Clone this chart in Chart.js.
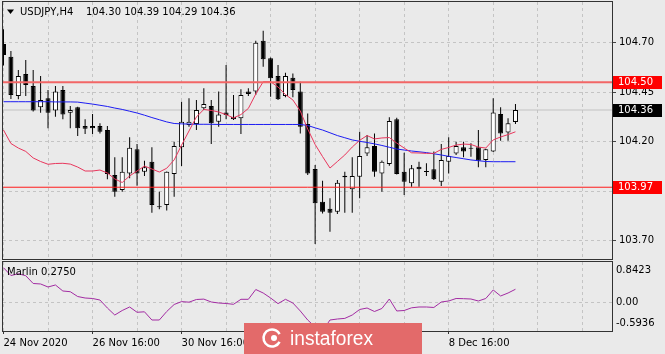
<!DOCTYPE html>
<html>
<head>
<meta charset="utf-8">
<script src="https://cdn.jsdelivr.net/npm/chart.js@4/dist/chart.umd.min.js"></script>
<style>
  html, body { margin: 0; padding: 0; background: #eaeaea; }
  body { width: 665px; height: 354px; position: relative; overflow: hidden; }
  canvas { position: absolute; left: 0; }
  #main { top: 0; }
  #sub { top: 260px; }
</style>
</head>
<body>
<canvas id="main" width="665" height="260"></canvas>
<canvas id="sub" width="665" height="94"></canvas>
<script>
// USDJPY H4, 70 bars
const symbol = 'USDJPY,H4';
const lastBar = ['104.30', '104.39', '104.29', '104.36'];

const opens = [104.693,104.629,104.431,104.542,104.481,104.374,104.419,104.357,104.461,104.346,
  104.374,104.279,104.279,104.279,104.259,104.032,103.956,104.040,104.162,104.048,
  104.099,103.873,103.880,104.037,104.172,104.284,104.289,104.369,104.380,104.301,
  104.348,104.326,104.318,104.453,104.453,104.710,104.621,104.532,104.431,104.523,
  104.453,104.289,104.062,103.897,103.862,103.846,104.028,103.960,104.023,104.141,
  104.178,104.040,104.087,104.313,104.048,103.990,104.074,104.049,104.061,103.998,
  104.099,104.141,104.172,104.167,104.172,104.108,104.150,104.340,104.247,104.300];
const highs = [104.768,104.658,104.562,104.613,104.562,104.532,104.461,104.481,104.481,104.380,
  104.376,104.313,104.340,104.293,104.279,104.121,104.121,104.222,104.188,104.104,
  104.172,103.947,104.050,104.200,104.402,104.419,104.411,104.470,104.411,104.453,
  104.587,104.436,104.465,104.470,104.710,104.761,104.625,104.587,104.548,104.545,
  104.503,104.343,104.082,104.003,103.914,104.007,104.048,104.121,104.250,104.234,
  104.242,104.105,104.323,104.321,104.144,104.082,104.099,104.091,104.150,104.188,
  104.222,104.200,104.200,104.192,104.259,104.165,104.419,104.374,104.318,104.390];
const lows = [104.585,104.416,104.414,104.431,104.352,104.346,104.268,104.326,104.313,104.268,
  104.229,104.239,104.239,104.242,104.010,103.922,103.947,104.015,103.978,104.027,
  103.841,103.859,103.852,103.922,104.077,104.276,104.259,104.360,104.188,104.276,
  104.313,104.310,104.239,104.431,104.436,104.579,104.427,104.411,104.424,104.424,
  104.242,104.032,103.683,103.838,103.745,103.835,103.841,103.841,103.914,104.128,
  104.023,103.947,104.079,104.035,103.931,103.973,103.973,104.027,104.007,103.976,
  104.040,104.133,104.121,104.124,104.071,104.071,104.148,104.205,104.205,104.290];
const closes = [104.638,104.436,104.532,104.486,104.357,104.411,104.346,104.453,104.338,104.360,
  104.268,104.266,104.268,104.250,104.037,103.947,104.048,104.170,104.040,104.071,
  103.880,103.869,104.048,104.178,104.301,104.301,104.360,104.390,104.293,104.338,
  104.335,104.313,104.436,104.441,104.700,104.616,104.520,104.414,104.532,104.461,
  104.276,104.040,103.889,103.846,103.841,103.993,104.020,104.027,104.128,104.172,
  104.048,104.099,104.305,104.037,103.998,104.066,104.061,104.047,104.010,104.108,
  104.128,104.178,104.150,104.165,104.104,104.162,104.348,104.242,104.293,104.360];

// moving averages (fast red, slow blue)
const maFast = [104.259,104.191,104.168,104.151,104.118,104.100,104.086,104.090,104.091,104.087,
  104.072,104.052,104.052,104.057,104.042,104.012,103.994,104.027,104.052,104.077,
  104.062,104.047,104.066,104.108,104.183,104.254,104.325,104.363,104.358,104.350,
  104.337,104.320,104.337,104.368,104.441,104.503,104.503,104.476,104.438,104.411,
  104.355,104.264,104.186,104.125,104.067,104.100,104.133,104.173,104.207,104.231,
  104.214,104.219,104.221,104.193,104.168,104.144,104.143,104.141,104.141,104.161,
  104.171,104.183,104.188,104.186,104.173,104.168,104.209,104.224,104.236,104.250];
const maSlow = [104.402,104.402,104.402,104.402,104.402,104.402,104.402,104.401,104.401,104.401,
  104.400,104.395,104.390,104.384,104.378,104.370,104.363,104.354,104.345,104.334,
  104.322,104.311,104.300,104.292,104.290,104.289,104.288,104.288,104.288,104.287,
  104.287,104.287,104.287,104.287,104.287,104.287,104.287,104.287,104.287,104.287,
  104.287,104.282,104.270,104.259,104.245,104.231,104.220,104.209,104.202,104.196,
  104.189,104.181,104.172,104.163,104.158,104.153,104.149,104.145,104.139,104.133,
  104.126,104.120,104.114,104.108,104.104,104.100,104.099,104.099,104.099,104.099];

// Marlin oscillator
const marlin = [0.724,0.561,0.597,0.557,0.395,0.385,0.322,0.364,0.239,0.224,
  0.124,0.093,0.083,0.051,-0.115,-0.261,-0.167,-0.094,-0.204,-0.194,
  -0.365,-0.365,-0.188,-0.042,0.018,0.006,0.062,0.070,0.010,-0.011,
  -0.021,-0.038,0.066,0.066,0.270,0.197,0.093,-0.024,0.066,-0.011,
  -0.177,-0.365,-0.510,-0.5936,-0.365,-0.344,-0.331,-0.261,-0.146,-0.115,
  -0.188,-0.125,0.072,-0.177,-0.167,-0.111,-0.094,-0.094,-0.104,0.010,
  0.031,0.083,0.079,0.072,0.031,0.083,0.260,0.135,0.197,0.275];
const marlinValue = '0.2750';

const priceTicks = [104.70, 104.45, 104.20, 103.95, 103.70];
const levels = [104.50, 103.97];
const bid = 104.36;
const marlinTicks = [0.8423, 0, -0.5936];
const marlinLabels = ['0.8423', '0.00', '-0.5936'];
const gridBars = [0, 6, 12, 18, 24, 30, 36, 42, 48, 54, 60, 66, 72, 78];
const timeBars = [0, 12, 24, 36, 48, 60];
const timeLabels = ['24 Nov 2020', '26 Nov 16:00', '30 Nov 16:00', '2 Dec 16:00', '4 Dec 16:00', '8 Dec 16:00'];

const xMin = -0.067, xMax = 82.01;
const font = { family: 'DejaVu Sans', size: 10 };
const gridColor = '#c4c4c4';

const wicks = opens.map((o, i) => ({ x: i, y: [lows[i], highs[i]] }));
const bodies = opens.map((o, i) => ({ x: i, y: [o, closes[i]] }));
const bodyColors = opens.map((o, i) => closes[i] >= o ? '#ffffff' : '#000000');
const hline = v => [{ x: xMin, y: v }, { x: xMax, y: v }];

const mainDecor = {
  id: 'mainDecor',
  afterDraw(chart) {
    const { ctx, chartArea: a, scales: { y } } = chart;
    ctx.save();
    ctx.strokeStyle = '#333';
    ctx.lineWidth = 1;
    ctx.strokeRect(a.left - 0.5, a.top - 0.5, a.right - a.left + 1, a.bottom - a.top + 1);

    ctx.fillStyle = '#000';
    ctx.beginPath();
    ctx.moveTo(7, 9.5); ctx.lineTo(14, 9.5); ctx.lineTo(10.5, 14);
    ctx.closePath(); ctx.fill();
    ctx.font = '10px "DejaVu Sans"';
    ctx.textBaseline = 'middle';
    ctx.fillText(symbol, 20, 12);
    ctx.fillText(lastBar.join(' '), 86, 12);

    const tag = (v, bg) => {
      const py = Math.round(y.getPixelForValue(v));
      ctx.fillStyle = bg;
      ctx.fillRect(a.right + 1, py - 6, 49, 13);
      ctx.fillStyle = '#fff';
      ctx.fillText(v.toFixed(2), a.right + 6, py + 0.5);
    };
    levels.forEach(v => tag(v, '#ff0000'));
    tag(bid, '#000');
    ctx.restore();
  }
};

const subDecor = {
  id: 'subDecor',
  afterDraw(chart) {
    const { ctx, chartArea: a, scales: { y } } = chart;
    ctx.save();
    ctx.strokeStyle = '#333';
    ctx.lineWidth = 1;
    ctx.strokeRect(a.left - 0.5, a.top - 0.5, a.right - a.left + 1, a.bottom - a.top + 1);

    ctx.font = '10px "DejaVu Sans"';
    ctx.fillStyle = '#000';
    ctx.textBaseline = 'middle';
    ctx.fillText('Marlin ' + marlinValue, 7, 12);
    marlinTicks.forEach((v, k) => {
      const py = Math.min(Math.max(y.getPixelForValue(v), a.top + 8.5), a.bottom - 7.5);
      ctx.fillText(marlinLabels[k], a.right + 4, py);
    });

    // watermark
    ctx.fillStyle = '#e36a6a';
    ctx.fillRect(244, 63, 178, 31);
    ctx.strokeStyle = '#fff';
    ctx.fillStyle = '#fff';
    ctx.lineWidth = 2.5;
    ctx.beginPath();
    ctx.arc(272, 78, 8.5, Math.PI * 0.15, Math.PI * 1.85);
    ctx.stroke();
    ctx.beginPath();
    ctx.arc(274, 78, 3, 0, Math.PI * 2);
    ctx.fill();
    ctx.font = '20px "Liberation Sans"';
    ctx.textBaseline = 'alphabetic';
    ctx.fillText('instaforex', 290, 85, 83);
    ctx.restore();
  }
};

const noPad = s => { s.paddingTop = 0; s.paddingBottom = 0; s.paddingLeft = 0; s.paddingRight = 0; };

new Chart(document.getElementById('main'), {
  type: 'bar',
  data: {
    datasets: [
      { type: 'line', data: hline(levels[0]), borderColor: '#f26666', borderWidth: 2, pointRadius: 0, order: 0 },
      { type: 'line', data: hline(levels[1]), borderColor: '#ff1a1a', borderWidth: 1, pointRadius: 0, order: 0 },
      { type: 'line', data: maFast.map((v, i) => ({ x: i, y: v })), borderColor: '#e8365c', borderWidth: 1, pointRadius: 0, order: 1 },
      { type: 'line', data: maSlow.map((v, i) => ({ x: i, y: v })), borderColor: '#1c1cf2', borderWidth: 1, pointRadius: 0, order: 1 },
      { type: 'bar', data: bodies, backgroundColor: bodyColors, borderColor: '#000', borderWidth: 1,
        borderSkipped: false, barThickness: 5, minBarLength: 1, grouped: false, inflateAmount: 0, order: 2 },
      { type: 'bar', data: wicks, backgroundColor: '#000', borderWidth: 0, barThickness: 1,
        grouped: false, inflateAmount: 0, order: 3 },
      { type: 'line', data: hline(bid), borderColor: '#c2c2c2', borderWidth: 1, pointRadius: 0, order: 4 }
    ]
  },
  options: {
    responsive: false,
    animation: false,
    events: [],
    layout: { padding: { left: 3, top: 2, right: 0, bottom: 1 } },
    plugins: { legend: { display: false }, tooltip: { enabled: false } },
    scales: {
      x: {
        type: 'linear', min: xMin, max: xMax, offset: false,
        afterFit: s => { s.height = 0; noPad(s); },
        afterBuildTicks: s => { s.ticks = gridBars.map(v => ({ value: v })); },
        ticks: { display: false },
        grid: { offset: false, color: gridColor, drawTicks: false },
        border: { display: false, dash: [3, 3] }
      },
      y: {
        position: 'right', min: 103.6076, max: 104.9056,
        afterFit: s => { s.width = 53; noPad(s); },
        afterBuildTicks: s => { s.ticks = priceTicks.map(v => ({ value: v })); },
        ticks: { callback: v => v.toFixed(2), font, color: '#000', padding: 3 },
        grid: { color: gridColor, tickLength: 4, tickColor: '#444' },
        border: { display: false, dash: [3, 3] }
      }
    }
  },
  plugins: [mainDecor]
});

new Chart(document.getElementById('sub'), {
  type: 'line',
  data: {
    datasets: [
      { data: marlin.map((v, i) => ({ x: i, y: v })), borderColor: '#a22ba2', borderWidth: 1, pointRadius: 0 }
    ]
  },
  options: {
    responsive: false,
    animation: false,
    events: [],
    layout: { padding: { left: 3, top: 2, right: 0, bottom: 0 } },
    plugins: { legend: { display: false }, tooltip: { enabled: false } },
    scales: {
      x: {
        type: 'linear', min: xMin, max: xMax, offset: false,
        afterFit: s => { s.height = 23; noPad(s); },
        afterBuildTicks: s => { s.ticks = gridBars.map(v => ({ value: v })); },
        ticks: {
          autoSkip: false, maxRotation: 0, minRotation: 0, align: 'start', padding: 3,
          color: '#000', font,
          callback: v => { const k = timeBars.indexOf(v); return k < 0 ? '' : timeLabels[k]; }
        },
        grid: {
          offset: false, color: gridColor, tickLength: 3,
          tickColor: c => (c.tick && timeBars.includes(c.tick.value)) ? '#333' : 'rgba(0,0,0,0)'
        },
        border: { display: false, dash: [3, 3] }
      },
      y: {
        position: 'right', min: Math.min(...marlinTicks), max: Math.max(...marlinTicks),
        afterFit: s => { s.width = 53; noPad(s); },
        afterBuildTicks: s => { s.ticks = [{ value: 0 }]; },
        ticks: { display: false },
        grid: { color: gridColor, drawTicks: false },
        border: { display: false, dash: [3, 3] }
      }
    }
  },
  plugins: [subDecor]
});
</script>
</body>
</html>
